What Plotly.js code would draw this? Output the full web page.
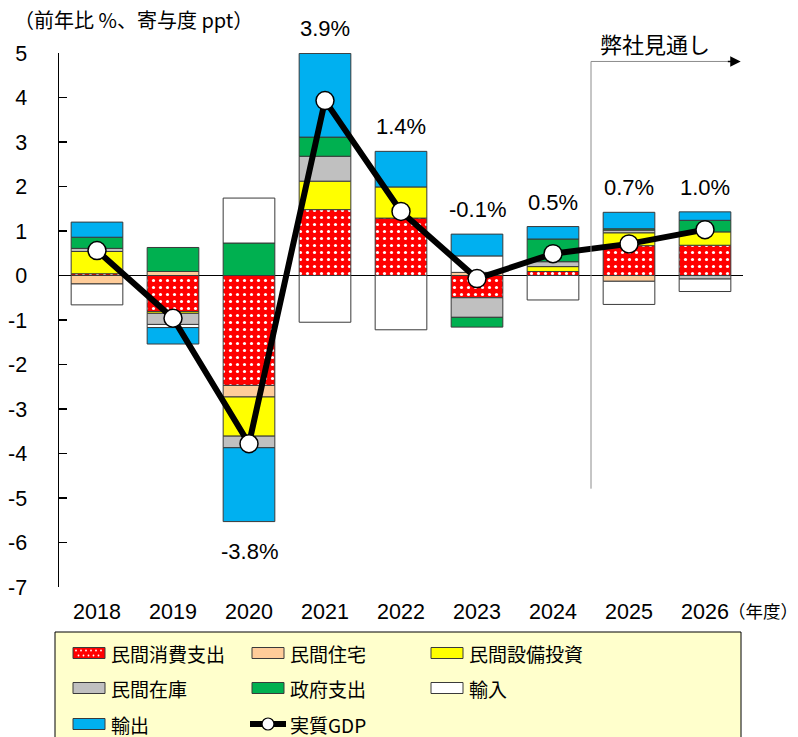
<!DOCTYPE html>
<html>
<head>
<meta charset="utf-8">
<script src="https://cdn.plot.ly/plotly-3.0.1.min.js"></script>
<style>html,body{margin:0;padding:0;background:#fff;}#chart{width:798px;height:737px;}</style>
</head>
<body>
<div id="chart"></div>
<script>
// ---- data ----
var years = ['2018','2019','2020','2021','2022','2023','2024','2025','2026'];
var consumption = [0.04, -0.81, -2.47, 1.48, 1.29, -0.50, 0.09, 0.67, 0.68];   // 民間消費支出
var housing     = [-0.19, 0.09, -0.26, null, null, 0.07, null, -0.13, null];   // 民間住宅
var capex       = [0.50, -0.04, -0.88, 0.64, 0.70, null, 0.11, 0.29, 0.30];    // 民間設備投資
var inventory   = [0.07, -0.25, -0.26, 0.56, null, -0.44, 0.11, 0.06, -0.08];  // 民間在庫
var government  = [0.25, 0.54, 0.73, 0.43, null, -0.22, 0.51, 0.03, 0.26];     // 政府支出
var imports     = [-0.47, -0.07, 1.01, -1.05, -1.22, 0.37, -0.55, -0.52, -0.28]; // 輸入
var exports     = [0.34, -0.37, -1.66, 1.88, 0.80, 0.49, 0.28, 0.37, 0.19];    // 輸出
var gdp         = [0.56, -0.96, -3.78, 3.93, 1.44, -0.07, 0.49, 0.71, 1.03];   // 実質GDP
var gdpLabels   = ['', '', '-3.8%', '3.9%', '1.4%', '-0.1%', '0.5%', '0.7%', '1.0%'];
var seriesNames = ['民間消費支出','民間住宅','民間設備投資','民間在庫','政府支出','輸入','輸出','実質GDP'];
var yTicks = [5,4,3,2,1,0,-1,-2,-3,-4,-5,-6,-7];

var colors = ['#FF0000','#FFCC99','#FFFF00','#C0C0C0','#00B050','#FFFFFF','#00B0F0'];
var series = [consumption, housing, capex, inventory, government, imports, exports];

var LATIN = 'Liberation Sans, Arial, Noto Sans CJK JP, sans-serif';
var CJK = 'Noto Sans CJK JP, sans-serif';

var traces = series.map(function(vals, i) {
  var t = {
    type: 'bar', x: years, y: vals, name: seriesNames[i], width: 0.68,
    marker: { color: colors[i], line: { color: '#3a3a3a', width: 1 } },
    showlegend: false, hoverinfo: 'x+y+name'
  };
  if (i === 0) {
    t.marker.pattern = { shape: '.', fgcolor: '#FFFFFF', bgcolor: '#FF0000', size: 7, solidity: 0.16, fillmode: 'replace' };
  }
  return t;
});
traces.push({
  type: 'scatter', mode: 'lines+markers', x: years, y: gdp, name: seriesNames[7],
  line: { color: '#000000', width: 6 },
  marker: { size: 18, color: '#FFFFFF', line: { color: '#000000', width: 1.5 } },
  showlegend: false
});

// plot geometry (pixels)
var L = 59, R = 55, T = 53, B = 150, W = 798 - L - R, H = 737 - T - B;
function px(x) { return (x - L) / W; }
function py(y) { return (737 - B - y) / H; }

var annotations = [];
var shapes = [];

// GDP labels, positioned from stacked sums (category index as x)
years.forEach(function(yr, i) {
  if (!gdpLabels[i]) return;
  var pos = 0, neg = 0;
  series.forEach(function(s) { var v = s[i] || 0; if (v > 0) pos += v; else neg += v; });
  var below = gdp[i] < -2;
  annotations.push({
    x: i, y: below ? neg : pos, xref: 'x', yref: 'y', text: gdpLabels[i], showarrow: false,
    yanchor: below ? 'top' : 'bottom', yshift: below ? -15 : 10,
    font: { family: LATIN, size: 22, color: '#000' }
  });
});

// axis title & unit
annotations.push({ xref: 'paper', yref: 'paper', x: px(12), y: py(20), xanchor: 'left', yanchor: 'middle',
  text: '（前年比 %、寄与度 ppt）', showarrow: false, font: { family: CJK, size: 20, color: '#000' } });
annotations.push({ xref: 'paper', yref: 'paper', x: px(726), y: py(610), xanchor: 'left', yanchor: 'middle',
  text: '（年度）', showarrow: false, font: { family: CJK, size: 17.5, color: '#000' } });

// forecast marker
shapes.push({ type: 'line', xref: 'x', yref: 'y', x0: 6.5, x1: 6.5, y0: -4.79, y1: 4.81, line: { color: '#8c8c8c', width: 1 } });
shapes.push({ type: 'line', xref: 'x', yref: 'y', x0: 6.5, x1: 8.3, y0: 4.81, y1: 4.81, line: { color: '#8c8c8c', width: 1 } });
annotations.push({ xref: 'x', yref: 'y', axref: 'x', ayref: 'y', x: 8.47, y: 4.81, ax: 8.28, ay: 4.81,
  text: '', showarrow: true, arrowhead: 2, arrowsize: 1.4, arrowwidth: 1.5, arrowcolor: '#000' });
annotations.push({ xref: 'paper', yref: 'paper', x: px(655), y: py(43), text: '弊社見通し', showarrow: false,
  xanchor: 'center', yanchor: 'middle', font: { family: CJK, size: 22, color: '#000' } });

// legend box
shapes.push({ type: 'rect', xref: 'paper', yref: 'paper', x0: px(55), x1: px(741), y0: py(632), y1: py(745),
  fillcolor: '#FFFFCC', line: { color: '#000', width: 1 }, layer: 'below' });
var colX = [73, 252, 431], rowY = [653, 688, 724];
seriesNames.forEach(function(nm, i) {
  var cx = colX[i % 3], cy = rowY[Math.floor(i / 3)];
  if (i < 7) {
    shapes.push({ type: 'rect', xref: 'paper', yref: 'paper', x0: px(cx), x1: px(cx + 32), y0: py(cy + 5.5), y1: py(cy - 5.5),
      fillcolor: colors[i], line: { color: '#3a3a3a', width: 1 } });
    if (i === 0) {
      for (var r = 0; r < 2; r++) {
        for (var k = 0; k < 6; k++) {
          var dx = cx + 3 + k * 5 + r * 2.5, dy = cy - 2.5 + r * 5;
          if (dx > cx + 30) continue;
          shapes.push({ type: 'circle', xref: 'paper', yref: 'paper', x0: px(dx - 0.9), x1: px(dx + 0.9),
            y0: py(dy + 0.9), y1: py(dy - 0.9), fillcolor: '#FFFFFF', line: { width: 0 } });
        }
      }
    }
  } else {
    shapes.push({ type: 'line', xref: 'paper', yref: 'paper', x0: px(cx - 2), x1: px(cx + 34), y0: py(cy), y1: py(cy),
      line: { color: '#000', width: 6 } });
    shapes.push({ type: 'circle', xref: 'paper', yref: 'paper', x0: px(cx + 10), x1: px(cx + 22), y0: py(cy + 6), y1: py(cy - 6),
      fillcolor: '#FFFFFF', line: { color: '#000', width: 1.2 } });
  }
  annotations.push({ xref: 'paper', yref: 'paper', x: px(cx + 36), y: py(cy), xanchor: 'left', yanchor: 'middle',
    text: nm, showarrow: false, font: { family: CJK, size: 19, color: '#000' } });
});

var layout = {
  width: 798, height: 737,
  margin: { l: L, r: R, t: T, b: B, pad: 0 },
  paper_bgcolor: '#FFFFFF', plot_bgcolor: '#FFFFFF',
  barmode: 'relative', bargap: 0.32,
  font: { family: LATIN, size: 20, color: '#000' },
  xaxis: {
    type: 'category', range: [-0.5, 8.5], showgrid: false, showline: false, ticks: '',
    tickfont: { family: LATIN, size: 21.5, color: '#000' }, ticklabelstandoff: 9, fixedrange: true
  },
  yaxis: {
    range: [-7, 5], tickvals: yTicks, ticktext: yTicks.map(String), showgrid: false,
    showline: true, linecolor: '#000', linewidth: 1.5,
    ticks: 'inside', ticklen: 8, tickwidth: 1.5, tickcolor: '#000',
    zeroline: true, zerolinecolor: '#000', zerolinewidth: 1.5,
    tickfont: { family: LATIN, size: 21.5, color: '#000' }, ticklabelstandoff: 26, fixedrange: true
  },
  showlegend: false,
  shapes: shapes,
  annotations: annotations
};

Plotly.newPlot('chart', traces, layout, { displayModeBar: false, staticPlot: true });
</script>
</body>
</html>
